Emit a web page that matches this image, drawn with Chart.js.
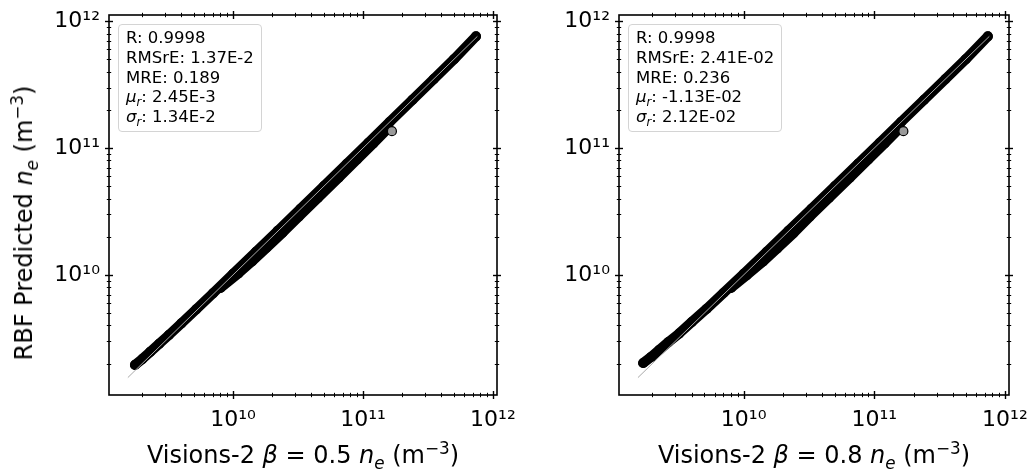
<!DOCTYPE html>
<html lang="en">
<head>
    <meta charset="UTF-8">
    <title>RBF Predicted vs Visions-2</title>
    <script src="https://cdn.jsdelivr.net/npm/chart.js"></script>
    <style>
        body { margin: 0; background: #fff; font-family: 'DejaVu Sans', sans-serif; color: #000; }
        #wrap { position: relative; width: 1033px; height: 472px; overflow: hidden; }
        canvas { position: absolute; top: 0; }
        .stats {
            position: absolute; top: 24px; white-space: nowrap;
            border: 1.5px solid #d4d4d4; border-radius: 4px; background: rgba(255,255,255,0.8);
            font-size: 16.5px; line-height: 19.8px; padding: 3px 7px 4px 7px;
        }
        .xtitle, .ytitle { position: absolute; font-size: 24px; line-height: 28px; white-space: nowrap; }
        .xtitle { top: 455px; transform: translate(-50%, -50%); }
        .ytitle { left: 24px; top: 223px; transform: translate(-50%, -50%) rotate(-90deg); }
        i { font-style: oblique; }
        sub, sup { font-size: 70%; line-height: 0; }
    </style>
</head>
<body>
<div id="wrap">
    <canvas id="chartB05" width="516" height="472" style="left:0"></canvas>
    <canvas id="chartB08" width="517" height="472" style="left:516px"></canvas>

    <div class="stats" style="left:118px">R: 0.9998<br>RMSrE: 1.37E-2<br>MRE: 0.189<br><i>μ</i><sub><i>r</i></sub>: 2.45E-3<br><i>σ</i><sub><i>r</i></sub>: 1.34E-2</div>
    <div class="stats" style="left:628px">R: 0.9998<br>RMSrE: 2.41E-02<br>MRE: 0.236<br><i>μ</i><sub><i>r</i></sub>: -1.13E-02<br><i>σ</i><sub><i>r</i></sub>: 2.12E-02</div>

    <div class="xtitle" style="left:303px">Visions-2 <i>β</i> = 0.5 <i>n</i><sub><i>e</i></sub> (m<sup>−3</sup>)</div>
    <div class="xtitle" style="left:814px">Visions-2 <i>β</i> = 0.8 <i>n</i><sub><i>e</i></sub> (m<sup>−3</sup>)</div>
    <div class="ytitle">RBF Predicted <i>n</i><sub><i>e</i></sub> (m<sup>−3</sup>)</div>
</div>

<script>
    // axis limits and tick values
    const xLimits = [1.11e9, 1.075e12];
    const yLimits = [1.13e9, 1.12e12];
    const majorTicks = [1e10, 1e11, 1e12];
    const majorLabels = ['10¹⁰', '10¹¹', '10¹²'];
    const minorTicks = [2e9, 3e9, 4e9, 5e9, 6e9, 7e9, 8e9, 9e9,
                        2e10, 3e10, 4e10, 5e10, 6e10, 7e10, 8e10, 9e10,
                        2e11, 3e11, 4e11, 5e11, 6e11, 7e11, 8e11, 9e11];

    // y = x reference line ends
    const refLine = [1.55e9, 7.6e11];

    // beta = 0.5 panel
    const mainX05 = [1.76e9, 2.0e9, 2.3e9, 2.7e9, 3.2e9, 4.0e9, 5.2e9, 7.0e9, 1.0e10, 1.5e10, 2.2e10, 3.3e10, 5.0e10, 7.5e10, 1.1e11, 1.6e11, 2.4e11, 3.5e11, 5.0e11, 7.4e11];
    const mainY05 = [1.95e9, 2.17e9, 2.47e9, 2.86e9, 3.35e9, 4.15e9, 5.35e9, 7.15e9, 1.02e10, 1.52e10, 2.22e10, 3.32e10, 5.02e10, 7.52e10, 1.1e11, 1.6e11, 2.4e11, 3.5e11, 5.0e11, 7.6e11];
    const lowX05 = [8.0e9, 1.1e10, 1.4e10, 1.8e10, 2.4e10, 3.2e10, 4.5e10, 6.5e10, 9.0e10, 1.2e11, 1.55e11];
    const lowY05 = [7.9e9, 1.03e10, 1.28e10, 1.63e10, 2.15e10, 2.88e10, 4.05e10, 5.85e10, 8.15e10, 1.09e11, 1.42e11];
    const outlier05 = [1.67e11, 1.36e11];

    // beta = 0.8 panel
    const mainX08 = [1.70e9, 1.95e9, 2.25e9, 2.65e9, 3.2e9, 4.0e9, 5.2e9, 7.0e9, 1.0e10, 1.5e10, 2.2e10, 3.3e10, 5.0e10, 7.5e10, 1.1e11, 1.6e11, 2.4e11, 3.5e11, 5.0e11, 7.4e11];
    const mainY08 = [2.02e9, 2.25e9, 2.55e9, 2.95e9, 3.45e9, 4.25e9, 5.4e9, 7.2e9, 1.02e10, 1.52e10, 2.22e10, 3.32e10, 5.02e10, 7.52e10, 1.1e11, 1.6e11, 2.4e11, 3.5e11, 5.0e11, 7.6e11];
    const lowX08 = [8.0e9, 1.05e10, 1.4e10, 1.8e10, 2.4e10, 3.2e10, 4.5e10, 6.5e10, 9.0e10, 1.2e11, 1.55e11];
    const lowY08 = [7.9e9, 9.9e9, 1.27e10, 1.61e10, 2.13e10, 2.88e10, 4.05e10, 5.85e10, 8.15e10, 1.09e11, 1.42e11];
    const outlier08 = [1.67e11, 1.36e11];

    Chart.defaults.font.family = "'DejaVu Sans', sans-serif";
    Chart.defaults.color = '#000';

    const toPoints = (xs, ys) => xs.map((x, i) => ({ x: x, y: ys[i] }));
    const allTicks = minorTicks.concat(majorTicks);

    // matplotlib-like box with in/out ticks on all four sides
    const framePlugin = {
        id: 'frame',
        afterDatasetsDraw(chart) {
            const { ctx, chartArea: a, scales: { x, y } } = chart;
            ctx.save();
            ctx.strokeStyle = '#000';
            ctx.lineWidth = 1.6;
            ctx.strokeRect(a.left, a.top, a.right - a.left, a.bottom - a.top);
            const seg = (x1, y1, x2, y2) => { ctx.beginPath(); ctx.moveTo(x1, y1); ctx.lineTo(x2, y2); ctx.stroke(); };
            allTicks.forEach(v => {
                const major = majorTicks.includes(v);
                const h = major ? 4 : 2.2;
                ctx.lineWidth = major ? 1.4 : 1;
                if (v >= x.min && v <= x.max) {
                    const px = Math.round(x.getPixelForValue(v)) + 0.5;
                    seg(px, a.bottom - h, px, a.bottom + h);
                    seg(px, a.top - h, px, a.top + h);
                }
                if (v >= y.min && v <= y.max) {
                    const py = Math.round(y.getPixelForValue(v)) + 0.5;
                    seg(a.left - h, py, a.left + h, py);
                    seg(a.right - h, py, a.right + h, py);
                }
            });
            ctx.restore();
        }
    };

    function logAxis(limits, pad, fit) {
        return {
            type: 'logarithmic',
            min: limits[0],
            max: limits[1],
            afterBuildTicks: s => { s.ticks = allTicks.filter(v => v >= s.min && v <= s.max).map(v => ({ value: v })); },
            ticks: {
                autoSkip: false,
                maxRotation: 0,
                padding: pad,
                font: { size: 22 },
                callback: v => { const k = majorTicks.indexOf(v); return k >= 0 ? majorLabels[k] : ''; }
            },
            grid: { display: false, drawTicks: false },
            border: { display: false },
            afterFit: fit
        };
    }

    const bandStyle = {
        showLine: true,
        borderColor: '#000',
        borderWidth: 10,
        borderCapStyle: 'round',
        borderJoinStyle: 'round',
        pointRadius: 4.5,
        pointBorderWidth: 1.2,
        pointBorderColor: '#000',
        pointBackgroundColor: 'rgba(0,0,0,0)'
    };

    function drawPanel(id, mainX, mainY, lowX, lowY, outlier, yWidth, padRight) {
        new Chart(document.getElementById(id), {
            type: 'scatter',
            data: {
                datasets: [
                    {
                        data: toPoints(refLine, refLine),
                        showLine: true,
                        borderColor: '#a8a8a8',
                        borderWidth: 1,
                        pointRadius: 0,
                        order: 0
                    },
                    {
                        data: [{ x: outlier[0], y: outlier[1] }],
                        pointRadius: 4.5,
                        borderWidth: 1.2,
                        borderColor: '#000',
                        backgroundColor: '#9a9a9a',
                        order: 1
                    },
                    Object.assign({ data: toPoints(mainX, mainY), order: 2 }, bandStyle),
                    Object.assign({ data: toPoints(lowX, lowY), order: 3 }, bandStyle)
                ]
            },
            options: {
                responsive: false,
                animation: false,
                layout: { padding: { top: 15, right: padRight, left: 0, bottom: 0 } },
                plugins: { legend: { display: false }, tooltip: { enabled: false } },
                scales: {
                    x: logAxis(xLimits, 12, s => { s.height = 77; s.paddingLeft = 0; s.paddingRight = 0; }),
                    y: logAxis(yLimits, 9, s => { s.width = yWidth; s.paddingTop = 0; s.paddingBottom = 0; })
                }
            },
            plugins: [framePlugin]
        });
    }

    drawPanel('chartB05', mainX05, mainY05, lowX05, lowY05, outlier05, 109, 19);
    drawPanel('chartB08', mainX08, mainY08, lowX08, lowY08, outlier08, 103, 24);
</script>
</body>
</html>
